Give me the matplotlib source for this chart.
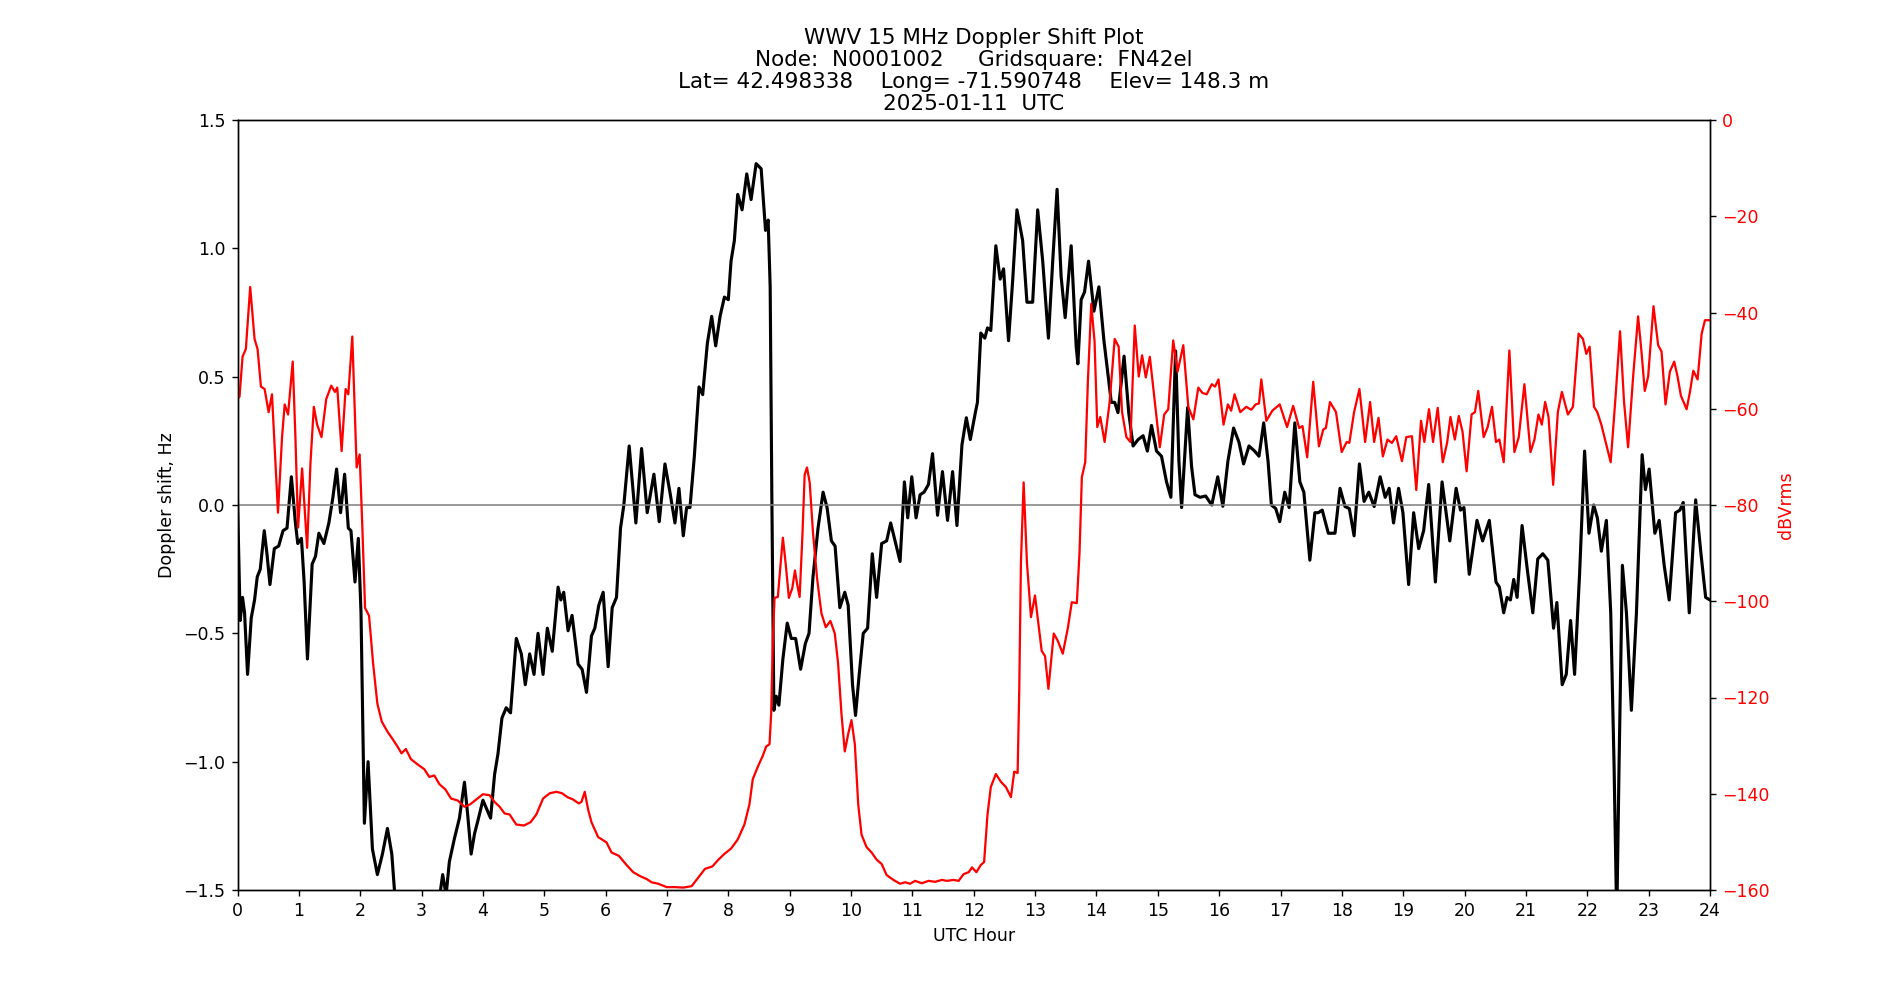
import matplotlib
matplotlib.use('Agg')
import matplotlib.pyplot as plt

# values
doppler_hours = [0.0, 0.044, 0.082, 0.115, 0.164, 0.224, 0.278, 0.322, 0.371, 0.436, 0.48, 0.529, 0.6, 0.671,
                 0.742, 0.807, 0.878, 0.944, 0.982, 1.042, 1.086, 1.14, 1.217, 1.271, 1.326, 1.408, 1.489, 1.555,
                 1.615, 1.68, 1.746, 1.806, 1.849, 1.915, 1.969, 2.013, 2.068, 2.128, 2.199, 2.28, 2.362, 2.444,
                 2.515, 2.564, 2.65, 2.8, 3.0, 3.2, 3.28, 3.344, 3.40, 3.453, 3.535, 3.617, 3.699, 3.753, 3.808,
                 3.864, 3.918, 4.0, 4.054, 4.125, 4.19, 4.245, 4.31, 4.38, 4.45, 4.544, 4.626, 4.691, 4.762, 4.833,
                 4.898, 4.98, 5.05, 5.13, 5.225, 5.27, 5.317, 5.388, 5.453, 5.551, 5.617, 5.688, 5.769, 5.824, 5.889,
                 5.96, 6.041, 6.107, 6.177, 6.243, 6.297, 6.384, 6.493, 6.586, 6.678, 6.787, 6.874, 6.967, 7.048,
                 7.13, 7.195, 7.266, 7.32, 7.375, 7.446, 7.522, 7.582, 7.658, 7.729, 7.794, 7.865, 7.936, 8.0,
                 8.044, 8.098, 8.153, 8.224, 8.3, 8.371, 8.453, 8.535, 8.606, 8.649, 8.682, 8.71, 8.742, 8.78,
                 8.824, 8.889, 8.96, 9.026, 9.097, 9.178, 9.255, 9.315, 9.38, 9.462, 9.544, 9.609, 9.68, 9.74,
                 9.817, 9.898, 9.953, 10.024, 10.073, 10.133, 10.199, 10.27, 10.346, 10.417, 10.499, 10.58, 10.646,
                 10.728, 10.799, 10.87, 10.924, 10.99, 11.06, 11.126, 11.19, 11.262, 11.328, 11.41, 11.49, 11.573,
                 11.655, 11.726, 11.808, 11.879, 11.944, 12.026, 12.06, 12.115, 12.18, 12.224, 12.278, 12.36,
                 12.43, 12.486, 12.567, 12.633, 12.704, 12.797, 12.867, 12.96, 13.042, 13.124, 13.217, 13.287,
                 13.358, 13.424, 13.49, 13.588, 13.669, 13.697, 13.751, 13.806, 13.871, 13.959, 14.04, 14.122,
                 14.177, 14.242, 14.297, 14.351, 14.45, 14.526, 14.597, 14.679, 14.76, 14.83, 14.897, 14.979,
                 15.06, 15.142, 15.213, 15.29, 15.344, 15.388, 15.486, 15.55, 15.606, 15.688, 15.78, 15.879,
                 15.977, 16.06, 16.142, 16.235, 16.322, 16.398, 16.486, 16.578, 16.649, 16.726, 16.797, 16.851,
                 16.922, 16.987, 17.069, 17.14, 17.233, 17.315, 17.38, 17.478, 17.56, 17.615, 17.68, 17.779,
                 17.888, 17.97, 18.051, 18.122, 18.199, 18.286, 18.362, 18.439, 18.526, 18.624, 18.706, 18.771,
                 18.842, 18.924, 18.995, 19.088, 19.17, 19.252, 19.333, 19.415, 19.524, 19.633, 19.759, 19.862,
                 19.933, 19.99, 20.076, 20.202, 20.294, 20.403, 20.512, 20.567, 20.638, 20.692, 20.747, 20.801,
                 20.856, 20.937, 21.019, 21.112, 21.193, 21.275, 21.357, 21.45, 21.504, 21.591, 21.657, 21.728,
                 21.793, 21.875, 21.956, 22.027, 22.104, 22.164, 22.229, 22.311, 22.382, 22.436, 22.48, 22.518,
                 22.572, 22.638, 22.719, 22.801, 22.894, 22.948, 23.008, 23.101, 23.172, 23.253, 23.335, 23.439,
                 23.51, 23.564, 23.662, 23.766, 23.853, 23.929, 24.0]
doppler_hz = [0.02, -0.45, -0.36, -0.42, -0.66, -0.44, -0.37, -0.28, -0.25, -0.10, -0.19, -0.31, -0.17, -0.16,
              -0.10, -0.09, 0.11, -0.07, -0.15, -0.13, -0.30, -0.60, -0.23, -0.20, -0.11, -0.15, -0.07, 0.03,
              0.14, -0.03, 0.12, -0.09, -0.10, -0.30, -0.13, -0.42, -1.24, -1.00, -1.34, -1.44, -1.36, -1.26,
              -1.36, -1.52, -1.75, -1.9, -1.9, -1.7, -1.55, -1.44, -1.52, -1.39, -1.30, -1.22, -1.08, -1.21, -1.36,
              -1.28, -1.23, -1.15, -1.18, -1.22, -1.05, -0.97, -0.83, -0.79, -0.81, -0.52, -0.58, -0.70, -0.58, -0.66,
              -0.50, -0.66, -0.48, -0.57, -0.32, -0.37, -0.34, -0.49, -0.43, -0.62, -0.64, -0.73, -0.51, -0.48, -0.39,
              -0.34, -0.63, -0.40, -0.36, -0.09, 0.0, 0.23, -0.07, 0.22, -0.03, 0.12, -0.065, 0.16, 0.05,
              -0.07, 0.065, -0.12, -0.01, -0.01, 0.19, 0.46, 0.43, 0.63, 0.735, 0.62, 0.735, 0.81, 0.80,
              0.95, 1.03, 1.21, 1.15, 1.29, 1.19, 1.33, 1.31, 1.07, 1.11, 0.85, 0.01, -0.80, -0.745,
              -0.78, -0.60, -0.46, -0.52, -0.52, -0.64, -0.54, -0.50, -0.28, -0.09, 0.05, -0.01, -0.14, -0.16,
              -0.40, -0.34, -0.39, -0.70, -0.82, -0.66, -0.50, -0.48, -0.19, -0.36, -0.15, -0.14, -0.07,
              -0.15, -0.22, 0.09, -0.05, 0.11, -0.05, 0.04, 0.05, 0.08, 0.20, -0.04, 0.13, -0.06,
              0.13, -0.08, 0.235, 0.34, 0.255, 0.36, 0.40, 0.67, 0.65, 0.69, 0.68, 1.01,
              0.88, 0.92, 0.64, 0.87, 1.15, 1.03, 0.79, 0.79, 1.15, 0.95, 0.65, 0.95,
              1.23, 0.89, 0.73, 1.01, 0.62, 0.55, 0.80, 0.83, 0.95, 0.755, 0.85, 0.64,
              0.53, 0.40, 0.40, 0.36, 0.58, 0.36, 0.23, 0.255, 0.27, 0.21, 0.31, 0.21,
              0.19, 0.09, 0.03, 0.60, 0.17, -0.01, 0.38, 0.15, 0.04, 0.03, 0.035, 0.0,
              0.11, -0.005, 0.17, 0.30, 0.245, 0.16, 0.23, 0.21, 0.19, 0.32, 0.17, 0.0,
              -0.014, -0.065, 0.05, -0.01, 0.32, 0.09, 0.05, -0.215, -0.03, -0.03, -0.02, -0.11,
              -0.11, 0.065, -0.006, -0.014, -0.12, 0.16, 0.014, 0.05, -0.006, 0.11, 0.03, 0.065,
              -0.07, 0.065, -0.03, -0.31, -0.03, -0.17, -0.10, 0.08, -0.30, 0.09, -0.14, 0.065,
              -0.02, -0.01, -0.27, -0.06, -0.14, -0.06, -0.30, -0.32, -0.42, -0.36, -0.37, -0.29,
              -0.36, -0.08, -0.245, -0.42, -0.21, -0.19, -0.215, -0.48, -0.38, -0.70, -0.66, -0.45,
              -0.66, -0.265, 0.21, -0.11, 0.0, -0.05, -0.18, -0.06, -0.42, -1.01, -1.62, -1.01,
              -0.235, -0.42, -0.80, -0.42, 0.196, 0.06, 0.14, -0.11, -0.06, -0.235, -0.37, -0.03,
              -0.02, 0.01, -0.42, 0.02, -0.19, -0.36, -0.37]

power_hours = [0.0, 0.033, 0.082, 0.136, 0.207, 0.278, 0.327, 0.382, 0.442, 0.507, 0.562, 0.66, 0.726, 0.769,
               0.824, 0.9, 0.944, 0.987, 1.053, 1.135, 1.19, 1.244, 1.298, 1.369, 1.446, 1.528, 1.588, 1.626,
               1.697, 1.762, 1.806, 1.871, 1.942, 1.991, 2.035, 2.079, 2.144, 2.21, 2.28, 2.351, 2.444, 2.526,
               2.608, 2.673, 2.744, 2.826, 2.935, 3.044, 3.126, 3.208, 3.29, 3.388, 3.481, 3.59, 3.699, 3.792,
               3.89, 4.0, 4.109, 4.19, 4.272, 4.354, 4.435, 4.544, 4.67, 4.778, 4.871, 4.98, 5.089, 5.198, 5.29,
               5.377, 5.47, 5.562, 5.606, 5.66, 5.715, 5.769, 5.878, 6.014, 6.096, 6.216, 6.341, 6.45, 6.559,
               6.667, 6.749, 6.858, 6.994, 7.13, 7.266, 7.402, 7.511, 7.62, 7.74, 7.838, 7.936, 8.044, 8.153,
               8.262, 8.344, 8.398, 8.48, 8.562, 8.616, 8.671, 8.698, 8.726, 8.753, 8.807, 8.846, 8.889, 8.933,
               8.987, 9.042, 9.086, 9.118, 9.162, 9.206, 9.244, 9.282, 9.326, 9.38, 9.446, 9.517, 9.588, 9.664,
               9.735, 9.789, 9.844, 9.898, 9.953, 10.007, 10.062, 10.117, 10.171, 10.253, 10.335, 10.417, 10.499,
               10.58, 10.69, 10.799, 10.881, 10.962, 11.044, 11.153, 11.262, 11.372, 11.481, 11.562, 11.672,
               11.753, 11.835, 11.917, 11.972, 12.043, 12.115, 12.169, 12.224, 12.278, 12.36, 12.442, 12.524,
               12.606, 12.66, 12.715, 12.742, 12.769, 12.813, 12.867, 12.933, 12.998, 13.042, 13.107, 13.162,
               13.217, 13.304, 13.369, 13.451, 13.533, 13.598, 13.68, 13.724, 13.762, 13.817, 13.86, 13.915,
               13.969, 14.013, 14.062, 14.133, 14.215, 14.297, 14.362, 14.417, 14.488, 14.553, 14.624, 14.689,
               14.744, 14.804, 14.87, 14.951, 15.033, 15.104, 15.17, 15.251, 15.322, 15.415, 15.497, 15.579,
               15.66, 15.726, 15.797, 15.879, 15.933, 15.989, 16.071, 16.142, 16.196, 16.251, 16.344, 16.442,
               16.524, 16.595, 16.649, 16.687, 16.769, 16.867, 16.987, 17.107, 17.206, 17.304, 17.358, 17.435,
               17.533, 17.626, 17.697, 17.74, 17.806, 17.904, 17.997, 18.079, 18.122, 18.199, 18.286, 18.379,
               18.46, 18.526, 18.597, 18.668, 18.744, 18.815, 18.886, 18.979, 19.05, 19.142, 19.213, 19.29,
               19.344, 19.42, 19.486, 19.562, 19.644, 19.715, 19.77, 19.841, 19.906, 19.967, 20.033, 20.114,
               20.169, 20.223, 20.311, 20.376, 20.447, 20.512, 20.567, 20.638, 20.73, 20.812, 20.883, 20.975,
               21.074, 21.139, 21.204, 21.259, 21.313, 21.368, 21.444, 21.52, 21.586, 21.684, 21.766, 21.858,
               21.929, 21.984, 22.038, 22.109, 22.163, 22.229, 22.311, 22.381, 22.458, 22.534, 22.599, 22.665,
               22.747, 22.828, 22.883, 22.937, 22.992, 23.079, 23.155, 23.21, 23.275, 23.346, 23.417, 23.471,
               23.526, 23.619, 23.673, 23.728, 23.798, 23.864, 23.918, 24.0]
power_dbv = [-58.0, -57.5, -49.2, -47.6, -34.7, -45.5, -47.6, -55.4, -55.9, -60.7, -57.0, -81.6, -65.9, -59.1,
             -61.2, -50.2, -65.9, -84.7, -72.4, -88.9, -71.1, -59.6, -63.3, -65.9, -58.0, -55.2, -56.5, -55.6,
             -68.8, -55.9, -57.0, -45.0, -72.2, -69.5, -84.7, -101.4, -103.0, -112.9, -121.3, -125.0, -127.1, -128.6,
             -130.2, -131.6, -130.7, -132.8, -133.9, -134.9, -136.5, -136.2, -138.0, -139.1, -141.0, -141.4, -142.7, -142.2,
             -141.2, -140.1, -140.3, -141.7, -142.7, -144.1, -144.3, -146.4, -146.6, -145.9, -144.3, -141.0, -139.9, -139.6, -139.9,
             -140.7, -141.2, -142.0, -141.7, -139.6, -143.3, -145.9, -149.0, -150.1, -152.2, -152.9, -154.8, -156.3, -157.1,
             -157.7, -158.4, -158.7, -159.4, -159.4, -159.5, -159.2, -157.4, -155.6, -155.1, -153.7, -152.5, -151.4, -149.5,
             -146.4, -142.2, -137.0, -134.4, -132.1, -130.2, -129.7, -123.4, -107.7, -99.3, -99.1, -93.1, -86.8, -92.0,
             -99.3, -97.3, -93.6, -96.2, -99.1, -86.8, -73.7, -72.2, -75.3, -85.8, -95.2, -102.5, -105.4, -104.1,
             -106.7, -112.9, -123.4, -131.2, -127.6, -124.7, -129.7, -142.2, -148.5, -151.1, -152.2, -153.7, -154.6,
             -156.9, -157.9, -158.7, -158.4, -158.7, -158.1, -158.6, -158.1, -158.3, -157.9, -158.1, -157.9,
             -158.1, -156.7, -156.3, -155.3, -156.3, -154.8, -154.2, -144.3, -138.6, -135.9, -137.5, -138.6,
             -140.7, -135.4, -135.7, -118.2, -92.0, -75.3, -92.0, -103.3, -98.8, -103.5, -110.3, -111.4,
             -118.2, -106.7, -108.2, -110.9, -105.6, -100.2, -100.4, -89.9, -74.2, -71.1, -54.4, -38.2,
             -46.0, -63.8, -61.7, -66.9, -58.6, -45.5, -47.1, -60.7, -65.9, -66.9, -42.7, -53.3,
             -48.9, -53.5, -49.2, -58.6, -68.0, -61.2, -60.1, -45.8, -52.3, -46.8, -59.6, -62.2,
             -55.6, -56.7, -57.0, -54.9, -55.4, -53.9, -63.3, -59.1, -60.4, -57.0, -60.7, -59.6,
             -60.2, -59.1, -58.9, -53.9, -62.5, -60.4, -59.1, -63.8, -59.4, -64.0, -63.6, -70.1,
             -54.4, -67.8, -64.3, -64.0, -58.6, -60.7, -69.0, -66.9, -67.1, -60.7, -55.9, -66.9,
             -58.6, -66.9, -61.9, -69.9, -66.4, -67.1, -65.7, -70.9, -65.9, -65.7, -76.9, -62.5,
             -66.9, -60.1, -66.9, -59.8, -71.1, -67.1, -61.7, -66.4, -61.5, -64.8, -73.0, -61.2,
             -60.7, -56.3, -65.9, -63.8, -59.6, -66.9, -66.4, -71.1, -47.9, -69.0, -65.9, -54.9,
             -69.0, -66.4, -61.2, -63.3, -58.6, -61.7, -75.8, -60.7, -56.5, -61.2, -59.6, -44.4,
             -45.5, -48.6, -47.1, -59.6, -60.7, -63.3, -67.5, -71.1, -58.0, -43.9, -58.6, -68.0,
             -53.3, -40.8, -48.1, -56.3, -53.3, -38.7, -46.8, -48.1, -59.1, -52.3, -50.2, -53.3,
             -57.3, -60.1, -56.5, -52.1, -53.9, -44.4, -41.6, -41.6]

hour_ticks = list(range(0, 25))
title_lines = ['WWV 15 MHz Doppler Shift Plot',
               'Node:  N0001002     Gridsquare:  FN42el',
               'Lat= 42.498338    Long= -71.590748    Elev= 148.3 m',
               '2025-01-11  UTC']


def make_plot():
    fig = plt.figure(figsize=(15.2, 8), dpi=125)
    ax = fig.add_subplot(111)
    ax.plot(doppler_hours, doppler_hz, color='black', linewidth=1.8, solid_joinstyle='round')
    ax.axhline(0, color='gray', linewidth=0.9)
    ax.set_xlim(0, 24)
    ax.set_ylim(-1.5, 1.5)
    ax.set_xticks(hour_ticks)
    ax.set_xlabel('UTC Hour')
    ax.set_ylabel('Doppler shift, Hz')
    ax.set_title('\n'.join(title_lines), fontsize=12.4, linespacing=1.12)

    ax2 = ax.twinx()
    ax2.plot(power_hours, power_dbv, color='red', linewidth=1.3, solid_joinstyle='round')
    ax2.set_ylim(-160, 0)
    ax2.set_ylabel('dBVrms', color='red')
    ax2.tick_params(axis='y', labelcolor='red')

    fig.savefig('out.png', dpi=125)


if __name__ == '__main__':
    make_plot()
